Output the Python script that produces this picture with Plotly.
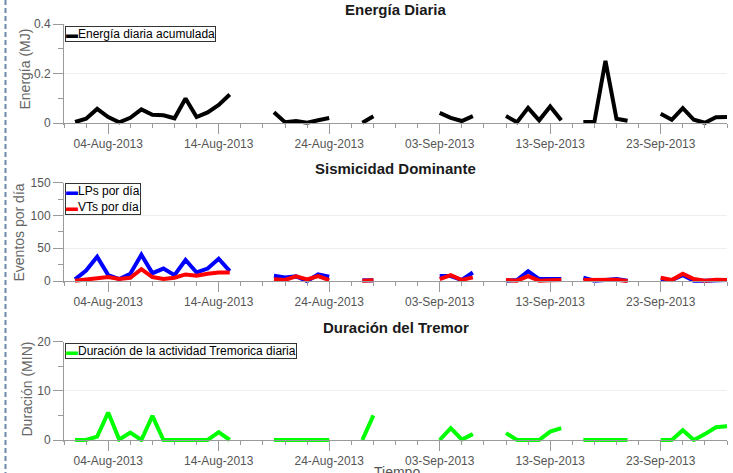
import plotly.graph_objects as go
import pandas as pd

N = None
# daily dates, 01-Aug-2013 .. 29-Sep-2013
fechas = pd.date_range("2013-08-01", "2013-09-29", freq="D").strftime("%Y-%m-%d").tolist()

energia = [0.004, 0.017, 0.057, 0.024, 0.003, 0.021, 0.055, 0.033, 0.031, 0.019, 0.099, 0.024, 0.043, 0.073, 0.115,
           N, N, N,
           0.043, 0.003, 0.008, 0.001, 0.011, 0.020,
           N, N,
           0.001, 0.027,
           N, N, N, N, N,
           0.041, 0.021, 0.008, 0.028,
           N, N,
           0.028, 0.003, 0.061, 0.011, 0.067, 0.011,
           N,
           0.004, 0.005, 0.251, 0.017, 0.009,
           N, N,
           0.037, 0.013, 0.060, 0.013, 0.001, 0.023, 0.024]

lps = [2.5, 16, 37, 9, 3, 11, 40, 12, 19, 9, 32, 13, 19, 34, 15,
       N, N, N,
       8, 5.5, 7, 0, 10, 6.5,
       N, N,
       1, 1,
       N, N, N, N, N,
       7.5, 7.5, 1.5, 13,
       N, N,
       0.5, 1.5, 15, 3, 3, 3,
       N,
       5, 0.5, 1.5, 3, 0.5,
       N, N,
       1.5, 1.5, 9, 0.5, 0.5, 1.5, 1.5]

vts = [0.5, 2, 3, 6, 3, 5, 18, 6, 3, 5, 10, 8, 11, 13, 13,
       N, N, N,
       2.5, 1.5, 7, 2.5, 7.5, 1.5,
       N, N,
       0.5, 1,
       N, N, N, N, N,
       3, 9, 1.5, 5.5,
       N, N,
       1.5, 0.5, 7.5, 0.5, 1, 1.5,
       N,
       1.5, 1.5, 1.5, 2, 0,
       N, N,
       5, 1.5, 11, 3, 0.5, 2, 1.5]

tremor = [0, 0, 0.7, 5.6, 0.1, 1.5, 0, 4.9, 0, 0, 0, 0, 0, 1.6, 0,
          N, N, N,
          0, 0, 0, 0, 0, 0,
          N, N,
          0, 5.0,
          N, N, N, N, N,
          0, 2.4, 0.1, 1.2,
          N, N,
          1.4, 0, 0, 0, 1.7, 2.4,
          N,
          0, 0, 0, 0, 0,
          N, N,
          0, 0, 2.0, 0, 1.2, 2.6, 2.8]

titulos = ["Energía Diaria", "Sismicidad Dominante", "Duración del Tremor"]
ytitulos = ["Energía (MJ)", "Eventos por día", "Duración (MIN)"]
leyendas = ["Energía diaria acumulada", "LPs por día", "VTs por día", "Duración de la actividad Tremorica diaria"]
xtitulo = "Tiempo"

# ---- layout geometry (pixels) ----
W, H = 733, 473
L, R, T, B = 64, 727, 24, 442
PW, PH = R - L, B - T


def fx(p):
    return (p - L) / PW


def fy(p):
    return (B - p) / PH


FONT = "Liberation Sans, Arial, Helvetica, sans-serif"
AXC = "#9a9a9a"
TKC = "#555555"

paneles = [  # top px, zero px, ymax, dtick, minor
    (24.0, 123.0, 0.4, 0.2, 0.1),
    (182.7, 281.0, 150, 50, 25),
    (341.7, 440.0, 20, 10, 5),
]

fig = go.Figure()
fig.add_trace(go.Scatter(x=fechas, y=energia, mode="lines", name=leyendas[0],
                         line=dict(color="#000000", width=4), xaxis="x", yaxis="y", showlegend=False))
fig.add_trace(go.Scatter(x=fechas, y=lps, mode="lines", name=leyendas[1],
                         line=dict(color="#0000ff", width=4), xaxis="x2", yaxis="y2", showlegend=False))
fig.add_trace(go.Scatter(x=fechas, y=vts, mode="lines", name=leyendas[2],
                         line=dict(color="#ff0000", width=4), xaxis="x2", yaxis="y2", showlegend=False))
fig.add_trace(go.Scatter(x=fechas, y=tremor, mode="lines", name=leyendas[3],
                         line=dict(color="#00ff00", width=4), xaxis="x3", yaxis="y3", showlegend=False))

layout = dict(
    width=W, height=H,
    margin=dict(l=L, r=W - R, t=T, b=H - B),
    paper_bgcolor="white", plot_bgcolor="white",
    font=dict(family=FONT, size=12, color=TKC),
    showlegend=False,
)

for i, (top, zero, ymax, dt, mn) in enumerate(paneles):
    sfx = "" if i == 0 else str(i + 1)
    ext = ymax * 2.0 / (zero - top)
    layout["xaxis" + sfx] = dict(
        type="date", range=["2013-07-31", "2013-09-29"], domain=[0, 1],
        anchor="free", position=fy(zero),
        showline=True, linecolor=AXC, linewidth=1,
        ticks="outside", ticklen=10, tickcolor=AXC, tickwidth=1,
        tick0="2013-08-04", dtick=10 * 86400000, tickformat="%d-%b-%Y",
        minor=dict(dtick=2 * 86400000, tick0="2013-08-04", ticks="outside", ticklen=4, tickcolor=AXC),
        showgrid=False, zeroline=False,
        tickfont=dict(size=12, color=TKC, family=FONT),
    )
    layout["yaxis" + sfx] = dict(
        domain=[fy(zero + 2), fy(top)], range=[-ext, ymax],
        anchor="x" + sfx,
        showline=True, linecolor=AXC, linewidth=1,
        ticks="outside", ticklen=10, tickcolor=AXC,
        dtick=dt, tick0=0,
        minor=dict(dtick=mn, ticks="outside", ticklen=5, tickcolor=AXC, showgrid=False),
        showgrid=True, gridcolor="#eeeeee", gridwidth=1, zeroline=False,
        tickfont=dict(size=12, color=TKC, family=FONT),
    )

anns = []
# panel titles
for t, yc in zip(titulos, [10, 168, 327]):
    anns.append(dict(text="<b>%s</b>" % t, x=0.5, y=fy(yc), xref="paper", yref="paper",
                     xanchor="center", yanchor="middle", showarrow=False,
                     font=dict(size=15, color="#1a1a1a", family=FONT)))
# y axis titles
for t, xc, yc in zip(ytitulos, [24.5, 18.5, 26.5], [69, 232, 389]):
    anns.append(dict(text=t, x=fx(xc), y=fy(yc), xref="paper", yref="paper", textangle=-90,
                     xanchor="center", yanchor="middle", showarrow=False,
                     font=dict(size=14, color="#666666", family=FONT)))
# x axis title (partly cut at bottom edge, as in the reference)
anns.append(dict(text=xtitulo, x=fx(397), y=fy(472), xref="paper", yref="paper",
                 xanchor="center", yanchor="middle", showarrow=False,
                 font=dict(size=14, color="#555555", family=FONT)))

# legends (boxed)
def sym(c):
    return "<span style='color:%s'>▬</span>" % c

leg_specs = [
    (sym("#000000") + leyendas[0], 26),
    (sym("#0000ff") + leyendas[1] + "<br>" + sym("#ff0000") + leyendas[2], 183),
    (sym("#00ff00") + leyendas[3], 343),
]
for txt, ytop in leg_specs:
    anns.append(dict(text=txt, x=fx(65), y=fy(ytop), xref="paper", yref="paper",
                     xanchor="left", yanchor="top", align="left", showarrow=False,
                     bordercolor="#333333", borderwidth=1, borderpad=0, bgcolor="white",
                     font=dict(size=12, color="#000000", family=FONT)))

layout["annotations"] = anns
layout["shapes"] = [dict(type="line", xref="paper", yref="paper",
                         x0=fx(5.5), x1=fx(5.5), y0=fy(0), y1=fy(H),
                         line=dict(color="#6e88aa", width=2, dash="5px,3px"))]

fig.update_layout(**layout)
fig.write_html("out.html", config={"displayModeBar": False},
               post_script="document.body.style.margin='0';document.body.style.overflow='hidden';")
